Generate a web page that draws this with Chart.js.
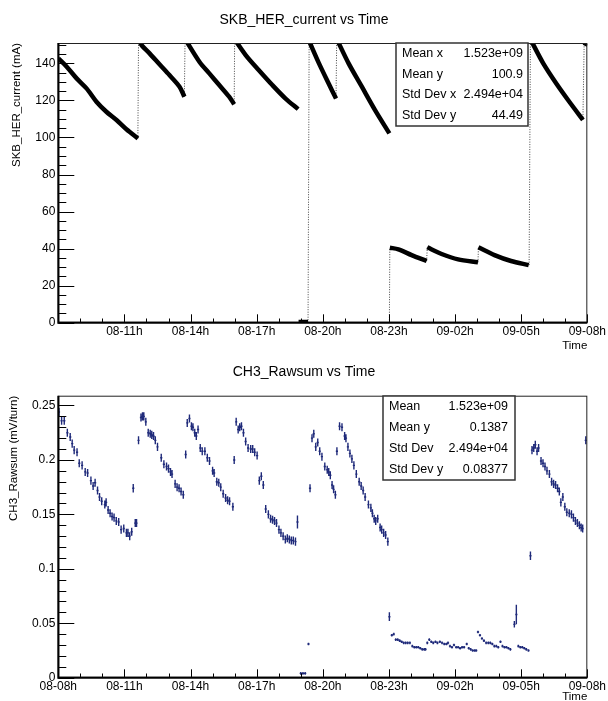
<!DOCTYPE html>
<html>
<head>
<meta charset="utf-8">
<script src="https://cdn.jsdelivr.net/npm/chart.js@4.4.1/dist/chart.umd.min.js"></script>
<style>
html, body { margin: 0; padding: 0; background: #fff; }
#wrap { position: relative; width: 608px; height: 701px; }
canvas { position: absolute; left: 0; }
#herChart { top: 0; }
#rawChart { top: 352px; }
</style>
</head>
<body>
<div id="wrap">
<canvas id="herChart" width="608" height="352"></canvas>
<canvas id="rawChart" width="608" height="349"></canvas>
</div>
<script>
// time axis is in hours after 08-08h
const timeLabels = ['08-08h', '08-11h', '08-14h', '08-17h', '08-20h', '08-23h', '09-02h', '09-05h', '09-08h']

// SKB_HER_current, coasting parts (null breaks the line)
const herTime = [
    0, 0.38, 0.83, 1.28, 1.73, 2.18, 2.64, 3.09, 3.61, null,
    3.63, 3.8, 4.14, 4.59, 5.04, 5.5, 5.72, null,
    5.76, 6.4, 6.85, 7.3, 7.75, 7.98, null,
    8.0, 8.5, 9.1, 9.71, 10.31, 10.88, null,
    10.9, 11.33, null,
    11.38, 11.81, 12.27, 12.6, null,
    12.64, 13.17, 13.77, 14.37, 15.02, null,
    15.04, 15.43, 16.03, 16.71, null,
    16.74, 17.39, 18.14, 19.04, null,
    19.06, 19.79, 20.54, 21.34, null,
    21.42, 22.0, 22.6, 23.2, 23.8, null,
    23.88, 23.95
]
const herCurrent = [
    142.7, 138.2, 131.9, 126.5, 119.3, 113.9, 109.4, 104.4, 99.5, null,
    153, 149.5, 145.4, 139.5, 133.7, 127.4, 122.0, null,
    153, 140.9, 134.6, 128.3, 122.0, 117.9, null,
    153, 144.5, 136.3, 128.3, 121.0, 115.3, null,
    0.4, 0.4, null,
    152, 140.4, 129.0, 121.0, null,
    153, 140.0, 127.4, 114.8, 102.2, null,
    40.5, 39.6, 36.5, 33.3, null,
    40.7, 37.1, 34.2, 32.6, null,
    40.7, 36.5, 33.3, 31.1, null,
    153, 140.0, 129.0, 119.0, 109.5, null,
    149.5, 151
]
// injections (sparse points)
const injTime = [3.61, 3.64, null, 5.72, 5.75, null, 7.98, 8.0, null, 11.33, 11.38, null, 12.6, 12.63, null,
    15.02, 15.04, null, 16.71, 16.74, null, 19.04, 19.06, null, 21.36, 21.42, null, 23.8, 23.86]
const injCurrent = [99.5, 153, null, 122.0, 153, null, 117.9, 153, null, 0, 153, null, 121.0, 153, null,
    0, 40.5, null, 33.3, 40.7, null, 32.6, 40.7, null, 31.1, 153, null, 109.5, 153]

// CH3_Rawsum profile
const rawTime = [
    0.03, 0.15, 0.27, 0.41, 0.54, 0.63, 0.72, 0.85, 0.95, 1.08, 1.22, 1.33, 1.48, 1.58, 1.67, 1.78, 1.87, 1.97,
    2.11, 2.17, 2.26, 2.35, 2.44, 2.53, 2.63, 2.74, 2.85, 2.97, 3.09, 3.16, 3.24, 3.33, 3.40, 3.49, 3.55,
    3.64, 3.75, 3.82, 3.88, 3.97, 4.08, 4.17, 4.24, 4.32, 4.40, 4.50, 4.67, 4.79, 4.91, 5.00, 5.09, 5.16,
    5.30, 5.39, 5.48, 5.57, 5.67, 5.78, 5.85, 5.95, 6.04, 6.11, 6.19, 6.26, 6.34, 6.44, 6.53, 6.65, 6.76,
    6.86, 7.00, 7.07, 7.19, 7.28, 7.37, 7.48, 7.59, 7.68, 7.77, 7.92, 7.98, 8.07, 8.16, 8.23, 8.31, 8.40,
    8.50, 8.61, 8.73, 8.82, 8.91, 9.02, 9.12, 9.21, 9.30, 9.41, 9.53, 9.63, 9.72, 9.81, 9.90, 10.01, 10.10,
    10.20, 10.30, 10.39, 10.48, 10.57, 10.66, 10.76, 10.85, 11.0, 11.1, 11.2, 11.35, 11.42, 11.51, 11.59,
    11.68, 11.77, 11.86, 11.96, 12.09, 12.20, 12.27, 12.34, 12.42, 12.49, 12.57, 12.64, 12.76, 12.87, 12.99,
    13.05, 13.14, 13.23, 13.32, 13.41, 13.52, 13.65, 13.74, 13.83, 13.92, 14.07, 14.18, 14.25, 14.33, 14.40,
    14.49, 14.60, 14.67, 14.76, 14.85, 14.95, 15.02, 15.13, 15.22, 15.31, 15.40, 15.49, 15.58, 15.67, 15.76,
    15.85, 15.95, 16.06, 16.15, 16.24, 16.33, 16.42, 16.51, 16.60, 16.66, 16.74, 16.83, 16.92, 17.01, 17.11,
    17.20, 17.31, 17.41, 17.51, 17.61, 17.68, 17.77, 17.86, 17.95, 18.05, 18.14, 18.23, 18.32, 18.41, 18.53,
    18.62, 18.71, 18.80, 18.89, 18.96, 19.04, 19.13, 19.22, 19.31, 19.41, 19.51, 19.60, 19.69, 19.78, 19.87,
    19.96, 20.06, 20.15, 20.24, 20.33, 20.42, 20.51, 20.69, 20.78, 20.87, 20.96, 21.05, 21.14, 21.23, 21.33,
    21.42, 21.49, 21.57, 21.64, 21.72, 21.79, 21.90, 21.99, 22.08, 22.17, 22.28, 22.38, 22.47, 22.56, 22.65,
    22.73, 22.80, 22.89, 22.98, 23.07, 23.18, 23.28, 23.37, 23.46, 23.55, 23.64, 23.72, 23.79, 23.93
]
const rawSum = [
    0.244, 0.236, 0.236, 0.225, 0.221, 0.215, 0.209, 0.207, 0.197, 0.195, 0.189, 0.188, 0.181, 0.176, 0.179, 0.172, 0.166, 0.162,
    0.159, 0.161, 0.154, 0.151, 0.148, 0.147, 0.144, 0.143, 0.136, 0.137, 0.133, 0.133, 0.130, 0.134, 0.174, 0.142, 0.142,
    0.218, 0.239, 0.240, 0.240, 0.235, 0.225, 0.224, 0.223, 0.222, 0.218, 0.212, 0.202, 0.196, 0.194, 0.192, 0.189, 0.187,
    0.178, 0.175, 0.174, 0.171, 0.168, 0.205, 0.234, 0.238, 0.231, 0.230, 0.225, 0.222, 0.228, 0.211, 0.208, 0.208, 0.202,
    0.199, 0.190, 0.188, 0.180, 0.179, 0.175, 0.169, 0.165, 0.163, 0.162, 0.157, 0.200, 0.235, 0.228, 0.230, 0.231, 0.225,
    0.217, 0.211, 0.210, 0.210, 0.207, 0.204, 0.181, 0.185, 0.177, 0.155, 0.150, 0.146, 0.145, 0.144, 0.142, 0.136, 0.133,
    0.130, 0.127, 0.128, 0.127, 0.126, 0.126, 0.125, 0.143, 0.004, 0.004, 0.004, 0.031, 0.174, 0.220, 0.224,
    0.212, 0.216, 0.208, 0.203, 0.194, 0.191, 0.189, 0.186, 0.177, 0.173, 0.168, 0.208, 0.231, 0.230, 0.222,
    0.220, 0.212, 0.206, 0.201, 0.195, 0.187, 0.180, 0.176, 0.172, 0.166, 0.159, 0.156, 0.151, 0.146, 0.144,
    0.146, 0.138, 0.136, 0.133, 0.131, 0.125, 0.056, 0.039, 0.040, 0.035, 0.035, 0.034, 0.033, 0.032, 0.032,
    0.032, 0.032, 0.029, 0.028, 0.028, 0.028, 0.027, 0.026, 0.026, 0.026, 0.032, 0.035, 0.033, 0.032, 0.033,
    0.032, 0.033, 0.032, 0.031, 0.031, 0.032, 0.029, 0.028, 0.030, 0.028, 0.028, 0.027, 0.028, 0.028, 0.031,
    0.027, 0.026, 0.025, 0.025, 0.025, 0.042, 0.039, 0.036, 0.034, 0.032, 0.032, 0.032, 0.031, 0.029, 0.029,
    0.028, 0.033, 0.029, 0.028, 0.028, 0.027, 0.026, 0.049, 0.058, 0.029, 0.028, 0.028, 0.027, 0.026, 0.025,
    0.112, 0.209, 0.211, 0.214, 0.208, 0.211, 0.199, 0.197, 0.194, 0.190, 0.187, 0.180, 0.178, 0.177, 0.174,
    0.171, 0.161, 0.166, 0.157, 0.152, 0.151, 0.150, 0.147, 0.144, 0.142, 0.140, 0.138, 0.137, 0.218
]
// larger error bars, by time
const rawBigErr = { 3.40: 0.004, 10.85: 0.006, 15.02: 0.004, 20.69: 0.003, 20.78: 0.009, 21.42: 0.004 }

const herStats = [['Mean x', '1.523e+09'], ['Mean y', '100.9'], ['Std Dev x', '2.494e+04'], ['Std Dev y', '44.49']]
const rawStats = [['Mean', '1.523e+09'], ['Mean y', '0.1387'], ['Std Dev', '2.494e+04'], ['Std Dev y', '0.08377']]

const FONT = '"Liberation Sans", Arial, Helvetica, sans-serif'
Chart.defaults.font.family = FONT
Chart.defaults.color = '#000'

const rootPlot = {
    id: 'rootPlot',
    afterDatasetsDraw(chart, args, o) {
        const ds = chart.data.datasets[0]
        if (!ds.yErr) return
        const {ctx, chartArea: a, scales: {x, y}} = chart
        ctx.save()
        ctx.beginPath()
        ctx.rect(a.left, a.top, a.width, a.height)
        ctx.clip()
        ctx.strokeStyle = o.markerColor
        ctx.lineWidth = 1.4
        ctx.beginPath()
        ds.data.forEach((p, i) => {
            const px = x.getPixelForValue(p.x)
            const py = y.getPixelForValue(p.y)
            const e = y.getPixelForValue(p.y - ds.yErr[i]) - py
            const dx = x.getPixelForValue(p.x + o.xErr) - px
            ctx.moveTo(px, py - e)
            ctx.lineTo(px, py + e)
            ctx.moveTo(px - dx, py)
            ctx.lineTo(px + dx, py)
        })
        ctx.stroke()
        ctx.restore()
    },
    afterDraw(chart, args, o) {
        const {ctx, chartArea: a, scales: {x, y}} = chart
        ctx.save()
        ctx.strokeStyle = '#000'
        ctx.lineWidth = 1
        ctx.beginPath()
        // x ticks, inward
        for (let h = 0; h <= 24; h++) {
            const px = Math.round(x.getPixelForValue(h)) + 0.5
            const len = h % 3 ? o.xTick / 2 : o.xTick
            ctx.moveTo(px, a.bottom)
            ctx.lineTo(px, a.bottom - len)
        }
        // y ticks, inward
        for (let k = 0; k * o.yMinor <= y.max + 1e-9; k++) {
            const py = Math.round(y.getPixelForValue(k * o.yMinor)) + 0.5
            const len = k % o.yMinorPer ? o.yTick / 2 : o.yTick
            ctx.moveTo(a.left, py)
            ctx.lineTo(a.left + len, py)
        }
        ctx.stroke()
        // frame
        ctx.strokeStyle = '#222'
        ctx.strokeRect(a.left + 0.5, a.top + 0.5, a.width - 1, a.height - 1)
        ctx.strokeStyle = '#000'
        ctx.lineWidth = 2
        ctx.beginPath()
        ctx.moveTo(a.left, a.top)
        ctx.lineTo(a.left, a.bottom)
        ctx.lineTo(a.right, a.bottom)
        ctx.stroke()

        ctx.fillStyle = '#000'
        // title
        ctx.font = '14px ' + FONT
        ctx.textAlign = 'center'
        ctx.textBaseline = 'middle'
        ctx.fillText(o.title, 304, 20)
        // axis titles
        ctx.font = '11.5px ' + FONT
        ctx.textAlign = 'right'
        ctx.fillText('Time', a.right, o.xTitleY)
        ctx.save()
        ctx.translate(o.yTitleX, a.top)
        ctx.rotate(-Math.PI / 2)
        ctx.fillText(o.yTitle, 0, 0)
        ctx.restore()
        // stats box
        const b = o.box
        ctx.fillStyle = '#fff'
        ctx.fillRect(b.left, b.top, b.width, b.height)
        ctx.strokeStyle = '#333'
        ctx.lineWidth = 1.5
        ctx.strokeRect(b.left, b.top, b.width, b.height)
        ctx.fillStyle = '#000'
        ctx.font = '12.5px ' + FONT
        const rowH = b.height / o.stats.length
        o.stats.forEach(([label, value], i) => {
            const cy = b.top + rowH * (i + 0.5)
            ctx.textAlign = 'left'
            ctx.fillText(label, b.left + 6, cy)
            ctx.textAlign = 'right'
            ctx.fillText(value, b.left + b.width - b.valuePad, cy)
        })
        ctx.restore()
    }
}

const xScale = (hideFirst, height) => ({
    type: 'linear',
    min: 0,
    max: 24,
    grid: {display: false, drawTicks: false},
    border: {display: false},
    ticks: {
        stepSize: 3,
        autoSkip: false,
        maxRotation: 0,
        padding: 2,
        font: {size: 12},
        callback: v => (hideFirst && v === 0) ? '' : timeLabels[Math.round(v / 3)]
    },
    afterFit: s => { s.height = height }
})

const herChart = new Chart(document.getElementById('herChart'), {
    type: 'line',
    data: {
        datasets: [{
            data: herTime.map((t, i) => ({x: t, y: herCurrent[i]})),
            borderColor: '#000',
            borderWidth: 4.5,
            pointRadius: 0,
            tension: 0.3,
            spanGaps: false,
            clip: 0
        }, {
            data: injTime.map((t, i) => ({x: t, y: injCurrent[i]})),
            borderColor: '#444',
            borderWidth: 1,
            borderDash: [1, 1.5],
            pointRadius: 0,
            spanGaps: false,
            clip: 0
        }]
    },
    options: {
        responsive: false,
        animation: false,
        layout: {padding: {left: 0, right: 18, top: 43, bottom: 0}},
        plugins: {
            legend: {display: false},
            tooltip: {enabled: false},
            rootPlot: {
                title: 'SKB_HER_current vs Time',
                yTitle: 'SKB_HER_current (mA)',
                yTitleX: 16.5,
                xTitleY: 345.5,
                xTick: 8.4, yTick: 16,
                yMinor: 5, yMinorPer: 4,
                stats: herStats,
                box: {left: 396, top: 43, width: 132, height: 83, valuePad: 5}
            }
        },
        scales: {
            x: xScale(true, 29.3),
            y: {
                min: 0,
                max: 151,
                grid: {display: false, drawTicks: false},
                border: {display: false},
                ticks: {stepSize: 20, includeBounds: false, padding: 3, font: {size: 12}},
                afterFit: s => { s.width = 58.3 }
            }
        }
    },
    plugins: [rootPlot]
})

const rawChart = new Chart(document.getElementById('rawChart'), {
    type: 'scatter',
    data: {
        datasets: [{
            data: rawTime.map((t, i) => ({x: t, y: rawSum[i]})),
            yErr: rawTime.map((t, i) => rawBigErr[t] || (rawSum[i] > 0.08 ? 0.0037 : 0.0012)),
            pointRadius: 0
        }]
    },
    options: {
        responsive: false,
        animation: false,
        layout: {padding: {left: 0, right: 18, top: 43.7, bottom: 0}},
        plugins: {
            legend: {display: false},
            tooltip: {enabled: false},
            rootPlot: {
                title: 'CH3_Rawsum vs Time',
                yTitle: 'CH3_Rawsum (mV/turn)',
                yTitleX: 14,
                xTitleY: 345,
                xTick: 8.4, yTick: 16,
                yMinor: 0.01, yMinorPer: 5,
                markerColor: '#1f2a7a',
                xErr: 0.05,
                stats: rawStats,
                box: {left: 383, top: 44, width: 132, height: 84, valuePad: 7}
            }
        },
        scales: {
            x: xScale(false, 23.3),
            y: {
                min: 0,
                max: 0.259,
                grid: {display: false, drawTicks: false},
                border: {display: false},
                ticks: {
                    stepSize: 0.05,
                    includeBounds: false,
                    padding: 3,
                    font: {size: 12},
                    callback: v => String(Math.round(v * 100) / 100)
                },
                afterFit: s => { s.width = 58.3 }
            }
        }
    },
    plugins: [rootPlot]
})
</script>
</body>
</html>
